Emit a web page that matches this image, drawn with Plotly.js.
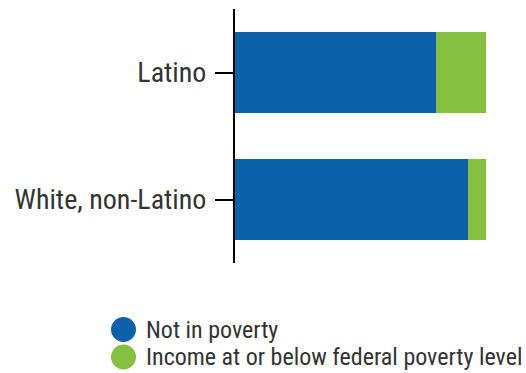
<!DOCTYPE html>
<html>
<head>
<meta charset="utf-8">
<script src="https://cdn.plot.ly/plotly-3.0.1.min.js"></script>
<style>html,body{margin:0;padding:0;background:#fff;}</style>
</head>
<body>
<div id="chart" style="width:526px;height:373px;"></div>
<script>
const categories = ["Latino", "White, non-Latino"];
const seriesNames = ["Not in poverty", "Income at or below federal poverty level"];
const notInPoverty = [80, 93];
const belowPoverty = [20, 7];
const colors = ["#0c62aa", "#86c041"];

const FONT = "'Roboto Condensed', 'Roboto', sans-serif";
const TEXT = "#333333";

const traces = [notInPoverty, belowPoverty].map((vals, i) => ({
  type: "bar",
  orientation: "h",
  y: categories,
  x: vals,
  name: seriesNames[i],
  marker: {color: colors[i], line: {width: 0}},
  showlegend: false,
  hoverinfo: "x+y+name"
}));

const shapes = [];
const annotations = [];
const legendY = [329.5, 357];
seriesNames.forEach((name, i) => {
  const yPaper = (373 - 110 - legendY[i]) / (373 - 9 - 110);
  shapes.push({
    type: "circle", xref: "paper", yref: "paper",
    xsizemode: "pixel", ysizemode: "pixel",
    xanchor: (123.5 - 235) / 251, yanchor: yPaper,
    x0: -12.5, x1: 12.5, y0: -12.5, y1: 12.5,
    fillcolor: colors[i], line: {width: 0}
  });
  annotations.push({
    xref: "paper", yref: "paper",
    x: (144 - 235) / 251, y: yPaper,
    xanchor: "left", yanchor: "middle",
    text: name, showarrow: false,
    font: {family: FONT, size: 24, color: TEXT}
  });
});

const layout = {
  width: 526, height: 373,
  margin: {l: 235, r: 40, t: 9, b: 110},
  paper_bgcolor: "#fff", plot_bgcolor: "#fff",
  barmode: "stack",
  bargap: 0.357,
  showlegend: false,
  xaxis: {range: [0, 100], visible: false, fixedrange: true},
  yaxis: {
    autorange: "reversed",
    showline: true, linecolor: "#000", linewidth: 2,
    ticks: "outside", ticklen: 18, tickwidth: 2, tickcolor: "#000",
    ticklabelstandoff: 3,
    showgrid: false, zeroline: false,
    tickfont: {family: FONT, size: 28, color: TEXT}
  },
  shapes: shapes,
  annotations: annotations
};

Plotly.newPlot("chart", traces, layout, {displayModeBar: false, staticPlot: true});
</script>
</body>
</html>
